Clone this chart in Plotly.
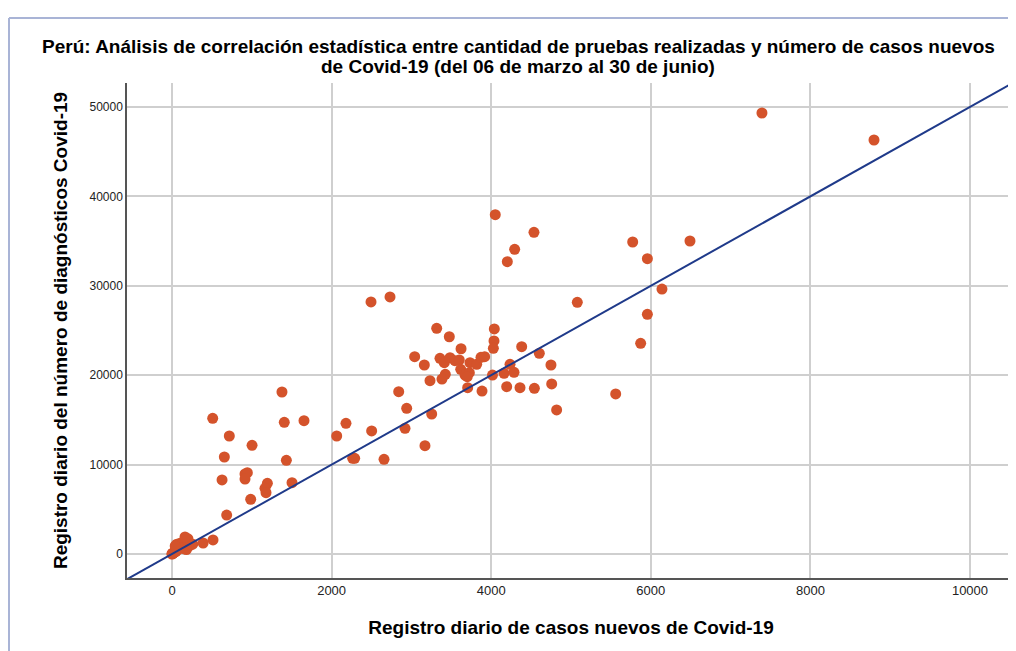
import plotly.graph_objects as go

# Daily new cases (x) vs daily diagnostics (y)
casos = [
    0, 1, 6, 10, 15, 20, 30, 40, 50, 60, 70, 80, 90, 100, 120, 140, 160, 180,
    200, 230, 260, 150, 200, 390, 514, 60, 100, 180, 40, 163,
    510, 1407, 1654, 718, 1003, 656, 1433, 627, 915, 944, 915, 1195, 1165,
    1178, 1504, 986, 685, 1378,
    2064, 2180, 2502, 2941, 2920, 3254, 3170, 2264, 2289, 2657,
    3317, 3475, 4039, 4035, 4027, 3041, 3162, 3358, 3412, 3484, 3546, 3600,
    3622, 3734, 3818, 3872, 3918, 3618, 3672, 3726, 3700, 3425, 3383, 3233,
    3705, 3885, 4016, 4161, 4236, 4286, 4382, 4603, 4749, 4194, 4361, 4541,
    4758, 4820, 2841,
    4051, 4536, 4294, 4202, 5773, 5957, 5079, 5957, 5873, 5560,
    6491, 6140, 7393, 8797, 2494, 2732,
]
pruebas = [
    0, 20, 50, 80, 100, 150, 200, 250, 300, 400, 500, 600, 1000, 1200, 800,
    1100, 900, 1300, 1700, 1000, 1100, 600, 800, 1230, 1570, 1100, 700, 500,
    900, 1900,
    15180, 14730, 14910, 13200, 12160, 10850, 10480, 8280, 8950, 9100, 8390,
    7910, 7350, 6860, 7980, 6120, 4360, 18120,
    13200, 14620, 13760, 16300, 14060, 15660, 12110, 10700, 10700, 10590,
    25250, 24300, 25170, 23830, 23010, 22070, 21140, 21890, 21400, 21960,
    21620, 21700, 22960, 21400, 21220, 22000, 22070, 20660, 20020, 20280,
    19830, 20100, 19570, 19390, 18600, 18230, 20020, 20210, 21220, 20320,
    23190, 22450, 21140, 18720, 18600, 18530, 19020, 16110, 18160,
    37950, 35980, 34080, 32700, 34900, 33030, 28150, 26810, 23570, 17900,
    35010, 29640, 49330, 46310, 28190, 28750,
]

# reference line drawn across the plot
linea_x = [-564, 10564]
linea_y = [-2820, 52820]

x_ticks = [0, 2000, 4000, 6000, 8000, 10000]
y_ticks = [0, 10000, 20000, 30000, 40000, 50000]

title_lines = [
    "Perú: Análisis de correlación estadística entre cantidad de pruebas realizadas y número de casos nuevos",
    "de Covid-19 (del 06 de marzo al 30 de junio)",
]

FONT = "Liberation Sans"
# the page body adds an 8px offset, so the figure is laid out 8px up/left
W, H = 1016, 651
L, R, T, B = 119, 9, 75, 81
pw, ph = W - L - R, H - T - B


def px(x):
    return (x - L) / pw


def py(y):
    return (H - B - y) / ph


fig = go.Figure()

fig.add_trace(go.Scatter(
    x=casos, y=pruebas, mode="markers",
    marker=dict(color="#d4532b", size=11, line=dict(width=0)),
    showlegend=False,
))

fig.add_trace(go.Scatter(
    x=linea_x, y=linea_y, mode="lines",
    line=dict(color="#1f3a8a", width=2),
    showlegend=False,
))

# two title lines as separate annotations to get the tight line spacing
for i, line in enumerate(title_lines):
    fig.add_annotation(
        xref="paper", yref="paper", x=px(510), y=py(39 + 19 * i),
        xanchor="center", yanchor="middle", showarrow=False,
        text=f"<b>{line}</b>",
        font=dict(family=FONT, size=19, color="black"),
    )

fig.update_layout(
    width=W, height=H,
    margin=dict(l=L, r=R, t=T, b=B),
    paper_bgcolor="white", plot_bgcolor="white",
    font=dict(family=FONT, color="#222"),
    shapes=[
        dict(type="line", xref="paper", yref="paper",
             x0=px(1), x1=px(1), y0=py(10), y1=py(H),
             line=dict(color="#a9b4d6", width=2)),
        dict(type="line", xref="paper", yref="paper",
             x0=px(1), x1=px(W), y0=py(10), y1=py(10),
             line=dict(color="#a9b4d6", width=2)),
    ],
)

fig.update_xaxes(
    range=[-564, 10564], tickvals=x_ticks, ticktext=[str(v) for v in x_ticks],
    showgrid=True, gridcolor="#cfcfcf", gridwidth=1.5, zeroline=False,
    showline=True, linecolor="#555", linewidth=1.5, ticks="",
    tickfont=dict(family=FONT, size=13, color="#222"),
    title=dict(text="<b>Registro diario de casos nuevos de Covid-19</b>",
               font=dict(family=FONT, size=19, color="black"), standoff=23),
    automargin=False,
)
fig.update_yaxes(
    range=[-2685, 52685], tickvals=y_ticks, ticktext=[str(v) for v in y_ticks],
    showgrid=True, gridcolor="#cfcfcf", gridwidth=1.5, zeroline=False,
    showline=True, linecolor="#555", linewidth=1.5, ticks="",
    tickfont=dict(family=FONT, size=12, color="#222"),
    title=dict(text="<b>Registro diario del número de diagnósticos Covid-19</b>",
               font=dict(family=FONT, size=19, color="black"), standoff=17),
    automargin=False,
)

fig.write_html("out.html")
